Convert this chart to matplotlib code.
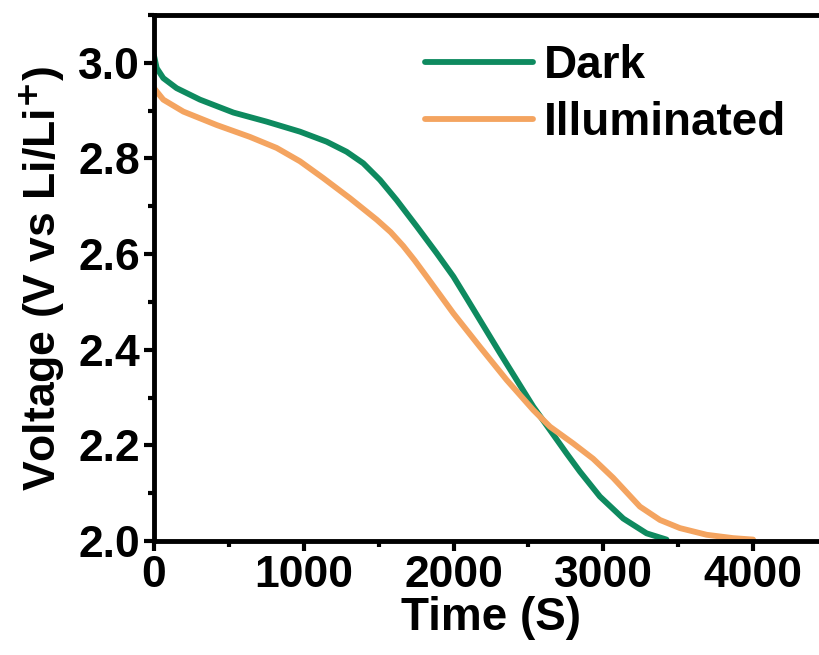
import matplotlib
matplotlib.use('Agg')
import matplotlib.pyplot as plt
from matplotlib.ticker import MultipleLocator, FormatStrFormatter

# values
dark_t = [0, 18, 62, 151, 307, 530, 752, 975, 1153, 1286, 1397, 1509, 1620,
          1754, 1887, 1999, 2087, 2310, 2532, 2644, 2755, 2844, 2977, 3133,
          3289, 3422]
dark_v = [3.015, 2.989, 2.968, 2.947, 2.923, 2.896, 2.877, 2.856, 2.835, 2.814,
          2.790, 2.755, 2.713, 2.658, 2.602, 2.553, 2.508, 2.393, 2.281, 2.232,
          2.183, 2.145, 2.093, 2.047, 2.016, 2.003]

illum_t = [0, 62, 196, 418, 641, 819, 975, 1130, 1308, 1487, 1580, 1664, 1740,
           1820, 1999, 2176, 2354, 2532, 2644, 2799, 2932, 3066, 3244, 3378,
           3511, 3690, 3867, 4000]
illum_v = [2.947, 2.923, 2.898, 2.870, 2.845, 2.822, 2.794, 2.759, 2.717, 2.672,
           2.646, 2.617, 2.587, 2.553, 2.476, 2.406, 2.337, 2.274, 2.239, 2.204,
           2.172, 2.132, 2.072, 2.044, 2.027, 2.013, 2.006, 2.003]

labels = ['Dark', 'Illuminated']
colors = ['#0E8A5F', '#F4A460']

plt.rcParams['font.family'] = ['Liberation Sans', 'DejaVu Sans']
plt.rcParams['font.weight'] = 'bold'

fig = plt.figure(figsize=(8.2, 6.55), dpi=100)
ax = fig.add_axes([154 / 820, 114 / 655, 674 / 820, 526 / 655])

ax.plot(dark_t, dark_v, color=colors[0], lw=4.2, label=labels[0],
        solid_capstyle='round', solid_joinstyle='round')
ax.plot(illum_t, illum_v, color=colors[1], lw=4.2, label=labels[1],
        solid_capstyle='round', solid_joinstyle='round')

ax.set_xlim(0, 4500)
ax.set_ylim(2.0, 3.1)
ax.xaxis.set_major_locator(MultipleLocator(1000))
ax.xaxis.set_minor_locator(MultipleLocator(500))
ax.yaxis.set_major_locator(MultipleLocator(0.2))
ax.yaxis.set_minor_locator(MultipleLocator(0.1))
ax.yaxis.set_major_formatter(FormatStrFormatter('%.1f'))

for s in ax.spines.values():
    s.set_linewidth(3.5)
ax.tick_params(which='major', direction='out', length=7, width=3, labelsize=32, pad=3)
ax.tick_params(which='minor', direction='out', length=4, width=3)

ax.set_xlabel('Time (S)', fontsize=33, fontweight='bold', labelpad=0)
ax.set_ylabel('Voltage (V vs Li/Li$^{\\mathbf{+}}$)', fontsize=32, fontweight='bold', labelpad=8)

ax.legend(loc='upper left', bbox_to_anchor=(425 / 820, 1 - 44 / 655),
          bbox_transform=fig.transFigure, frameon=False,
          borderpad=0, borderaxespad=0, handlelength=2.35, handletextpad=0.25,
          labelspacing=0.28, prop={'weight': 'bold', 'size': 33})

fig.savefig('out.png', dpi=100)
